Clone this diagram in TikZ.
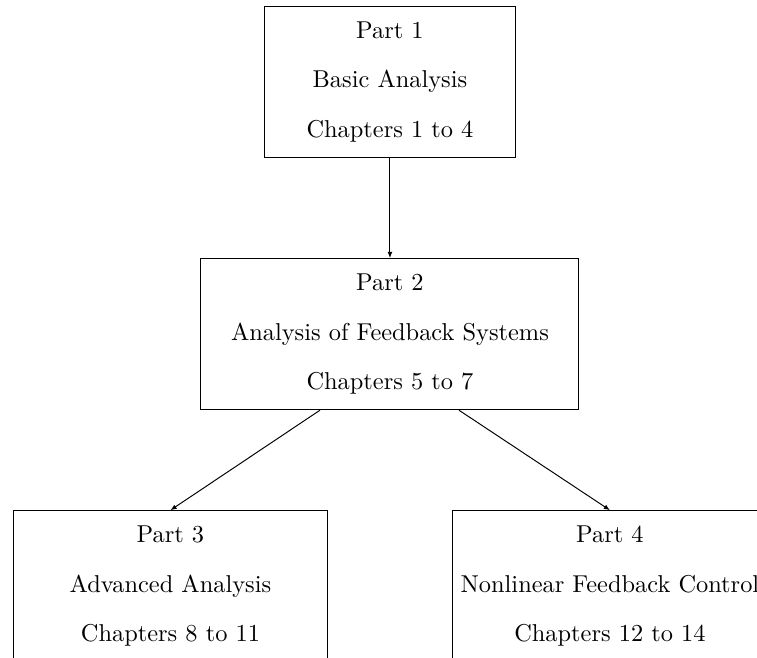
\documentclass[tikz,border=0pt]{standalone}
\usetikzlibrary{positioning,arrows.meta}
\begin{document}
\begin{tikzpicture}[>={Latex[length=2.5pt,width=2pt]},
    partbox/.style={draw, rectangle, align=center, inner sep=0pt,
        minimum height=62pt},
    node distance=41pt]
    % 0. Khung hình (cắt giống ảnh gốc)
    \useasboundingbox (-159.9pt,33.6pt) rectangle (150.5pt,-236.2pt);

    % 1. Các khối
    \node[partbox, minimum width=103.3pt] (part1) at (0,0)
        {Part 1\\[8.3pt] Basic Analysis\\[8.3pt] Chapters 1 to 4};
    \node[partbox, minimum width=155pt, below=of part1] (part2)
        {Part 2\\[8.3pt] Analysis of Feedback Systems\\[8.3pt] Chapters 5 to 7};
    \node[partbox, minimum width=129pt, below=of part2, xshift=-90pt] (part3)
        {Part 3\\[8.3pt] Advanced Analysis\\[8.3pt] Chapters 8 to 11};
    \node[partbox, minimum width=129pt, below=of part2, xshift=90.2pt] (part4)
        {Part 4\\[8.3pt] Nonlinear Feedback Control\\[8.3pt] Chapters 12 to 14};

    % 2. Mũi tên
    \draw[->] (part1) -- (part2);
    \draw[->] ([xshift=-28.7pt]part2.south) -- (part3.north);
    \draw[->] ([xshift=28.3pt]part2.south) -- (part4.north);
\end{tikzpicture}
\end{document}
